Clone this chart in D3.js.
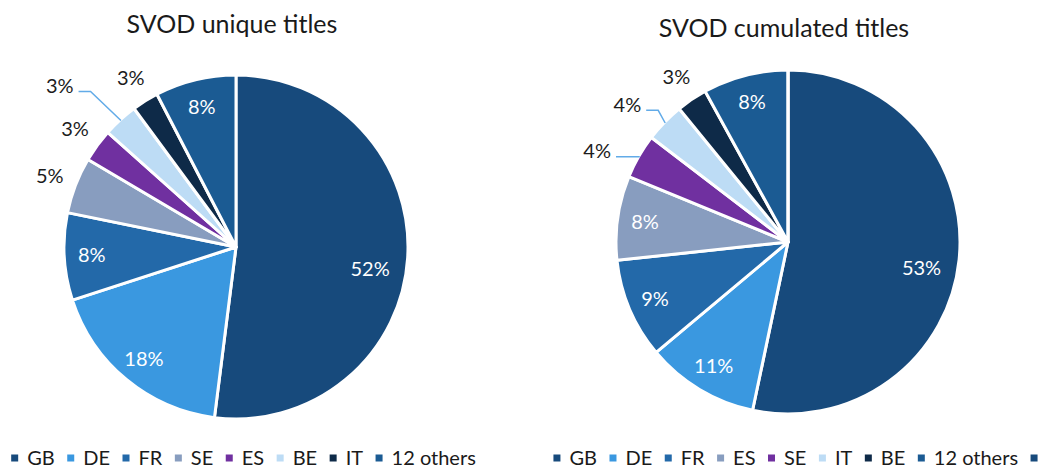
<!DOCTYPE html>
<html>
<head>
<meta charset="utf-8">
<script src="https://cdn.jsdelivr.net/npm/d3@7"></script>
<style>
  body { margin: 0; background: #fff; }
  text { font-family: Lato, "Open Sans", sans-serif; }
</style>
</head>
<body>
<svg id="chart" width="1038" height="468"></svg>
<script>
// data (shares in %)
const uniqueCountries = ["GB", "DE", "FR", "SE", "ES", "BE", "IT", "12 others"];
const uniqueShares    = [52.0, 18.0, 8.2, 5.3, 3.1, 3.3, 2.5, 7.6];

const cumulCountries = ["GB", "DE", "FR", "ES", "SE", "IT", "BE", "12 others", ""];
const cumulShares    = [53.3, 10.6, 9.4, 7.9, 4.2, 3.7, 2.9, 8.0, 0];

const palette = ["#174a7c", "#3a98e0", "#2369a9", "#889dbf", "#7030a0",
                 "#bddcf5", "#0e2a48", "#1b5b93", "#174a7c"];

const svg = d3.select("#chart");

// per chart layout, label nudges are by slice index
const charts = [
  { title: "SVOD unique titles", names: uniqueCountries, values: uniqueShares,
    cx: 236, cy: 247, r: 172, titleY: 33, legendY: 458,
    nudge: { 0: { k: 0.79, da: 5.8 }, 5: { k: 1.39, da: -5.2, leader: true } } },
  { title: "SVOD cumulated titles", names: cumulCountries, values: cumulShares,
    cx: 788, cy: 242, r: 172, titleY: 37, legendY: 458,
    nudge: { 0: { k: 0.79, da: 4.8 }, 4: { k: 1.23, da: -4.3, leader: true },
             5: { k: 1.23, da: -3.5, leader: true } } }
];

const pct = v => Math.round(v) + "%";

charts.forEach(c => {
  const g = svg.append("g").attr("transform", "translate(" + c.cx + "," + c.cy + ")");
  const color = d3.scaleOrdinal().domain(d3.range(c.names.length)).range(palette);

  const pie = d3.pie().sort(null).value(d => d.v);
  const data = c.values.map((v, i) => ({ v: v, name: c.names[i], i: i }));
  const arcs = pie(data);
  const arc = d3.arc().innerRadius(0).outerRadius(c.r);

  g.selectAll("path.slice").data(arcs).enter().append("path")
    .attr("class", "slice")
    .attr("d", arc)
    .attr("fill", d => color(d.data.i))
    .attr("stroke", "#fff")
    .attr("stroke-width", 3)
    .attr("stroke-linejoin", "round");

  // labels
  arcs.filter(d => d.data.v > 0).forEach(d => {
    const outside = d.data.v < 6;
    const nd = c.nudge[d.data.i] || {};
    const k = nd.k || (outside ? 1.16 : 0.84);
    const a = (d.startAngle + d.endAngle) / 2 + (nd.da || 0) * Math.PI / 180;
    const x = Math.sin(a) * c.r * k, y = -Math.cos(a) * c.r * k;
    const t = g.append("text")
      .attr("x", x).attr("y", y)
      .attr("dy", "0.36em")
      .attr("text-anchor", "middle")
      .style("font-size", "20px")
      .style("fill", outside ? "#1c1c1c" : "#fff")
      .text(pct(d.data.v));
    if (nd.leader) {
      const w = t.node().getComputedTextLength();
      const am = (d.startAngle + d.endAngle) / 2;
      const ex = Math.sin(am) * (c.r - 1), ey = -Math.cos(am) * (c.r - 1);
      const sx = x + w / 2 + 5, sy = y + 6;
      g.append("path")
        .attr("d", d3.line()([[sx, sy], [sx + 12, sy], [ex, ey]]))
        .attr("fill", "none")
        .attr("stroke", "#62abe8")
        .attr("stroke-width", 1.5);
    }
  });

  // title
  svg.append("text")
    .attr("x", c.cx - 4).attr("y", c.titleY)
    .attr("text-anchor", "middle")
    .style("font-size", "25px")
    .style("fill", "#1a1a1a")
    .text(c.title);

  // legend
  const lg = svg.append("g");
  let xpos = 0, xend = 0;
  c.names.forEach((n, i) => {
    const item = lg.append("g").attr("transform", "translate(" + xpos + ",0)");
    item.append("rect")
      .attr("x", 0).attr("y", c.legendY - 3.5)
      .attr("width", 7).attr("height", 7)
      .attr("fill", color(i));
    const t = item.append("text")
      .attr("x", 16).attr("y", c.legendY + 7)
      .style("font-size", "20px")
      .style("fill", "#1a1a1a")
      .text(n);
    const w = n ? 16 + t.node().getComputedTextLength() : 7;
    xend = xpos + w;
    xpos += w + 12.5;
  });
  lg.attr("transform", "translate(" + (c.cx + 7.5 - xend / 2) + ",0)");
});
</script>
</body>
</html>
